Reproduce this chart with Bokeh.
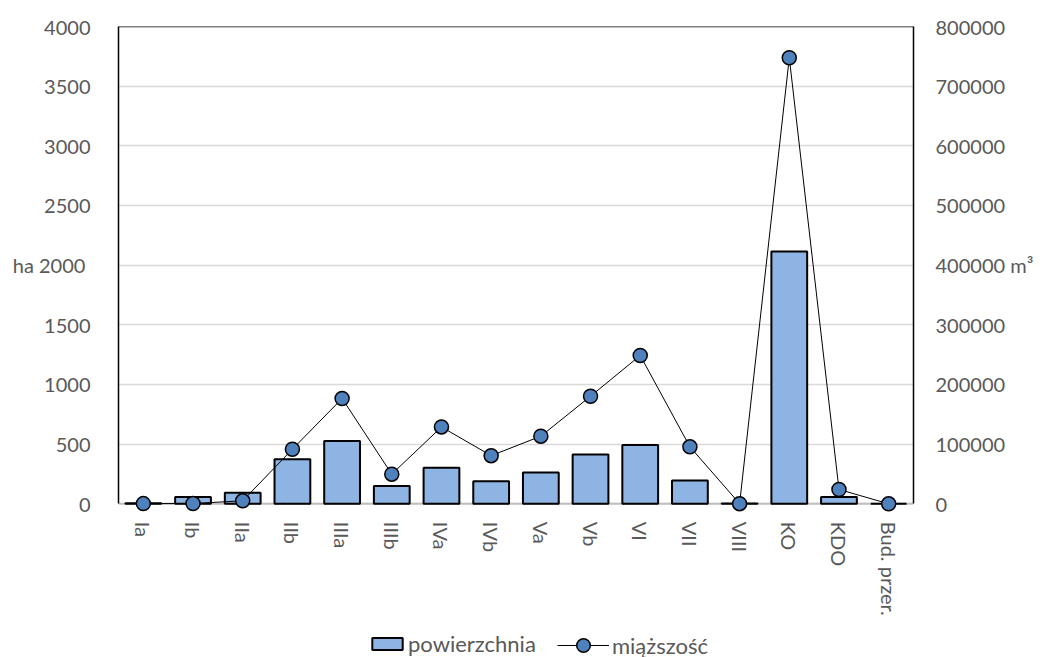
from math import pi

from bokeh.core.properties import value
from bokeh.embed import file_html
from bokeh.models import (BasicTickFormatter, FixedTicker, Legend, LegendItem,
                          LinearAxis, Range1d, Span)
from bokeh.plotting import figure
from bokeh.resources import INLINE

# Site classes and their totals
categories = ["Ia", "Ib", "IIa", "IIb", "IIIa", "IIIb", "IVa", "IVb",
              "Va", "Vb", "VI", "VII", "VIII", "KO", "KDO", "Bud. przer."]
area_ha = [5, 58, 93, 374, 526, 150, 302, 190,
           263, 414, 492, 195, 3, 2115, 56, 0]
volume_m3 = [300, 500, 5000, 91500, 176500, 49700, 128800, 80700,
             113300, 180300, 248600, 95500, 200, 747600, 24000, 0]

ha_ticks = [0, 500, 1000, 1500, 2000, 2500, 3000, 3500, 4000]
m3_ticks = [0, 100000, 200000, 300000, 400000, 500000, 600000, 700000, 800000]

FONT = "Lato"
GREY = "#595959"
SIZE = "20px"
LEGEND_SIZE = "22px"

W, H = 1045, 657
TOP = 26            # frame top (value 4000)
ZERO_PX = 503.3     # screen row of the zero line
ha_hi = 4000
# the frame runs to the bottom of the canvas; the category labels and the
# legend sit in the part below zero
ha_lo = -ha_hi * (H - ZERO_PX) / (ZERO_PX - TOP)
m3_hi = 800000
m3_lo = ha_lo * m3_hi / ha_hi

p = figure(width=W, height=H, x_range=categories,
           y_range=Range1d(ha_lo, ha_hi),
           output_backend="svg", toolbar_location=None,
           min_border_left=118, min_border_right=132,
           min_border_top=TOP, min_border_bottom=0)
p.extra_y_ranges = {"m3": Range1d(m3_lo, m3_hi)}
p.outline_line_color = None
p.background_fill_color = "white"
p.border_fill_color = "white"
p.xaxis.visible = False

# left axis (ha)
ly = p.yaxis[0]
ly.ticker = FixedTicker(ticks=ha_ticks)
ly.bounds = (0, ha_hi)
ly.formatter = BasicTickFormatter(use_scientific=False)
ly.major_label_overrides = {2000: "ha  2000"}
ly.axis_line_color = "black"
ly.axis_line_width = 1.5
ly.major_tick_line_color = None
ly.minor_tick_line_color = None
ly.major_label_standoff = 22
ly.major_label_text_font = FONT
ly.major_label_text_font_size = SIZE
ly.major_label_text_color = GREY

# right axis (m3)
ry = LinearAxis(y_range_name="m3", ticker=FixedTicker(ticks=m3_ticks),
                formatter=BasicTickFormatter(use_scientific=False),
                bounds=(0, m3_hi))
ry.major_label_overrides = {400000: "400000 m³"}
ry.axis_line_color = "black"
ry.axis_line_width = 1.5
ry.major_tick_line_color = None
ry.minor_tick_line_color = None
ry.major_label_standoff = 16
ry.major_label_text_font = FONT
ry.major_label_text_font_size = SIZE
ry.major_label_text_color = GREY
p.add_layout(ry, "right")

p.xgrid.grid_line_color = None
p.ygrid.ticker = FixedTicker(ticks=ha_ticks)
p.ygrid.grid_line_color = "#d9d9d9"
p.ygrid.grid_line_width = 1.5

p.add_layout(Span(location=0, dimension="width", line_color="#bfbfbf",
                  line_width=2, level="underlay"))
p.add_layout(Span(location=ha_hi, dimension="width", line_color="black",
                  line_width=1.5))

bars = p.vbar(x=categories, top=area_ha, width=0.72,
              fill_color="#8db4e2", line_color="black", line_width=2)
vol_line = p.line(x=categories, y=volume_m3, y_range_name="m3",
                  line_color="black", line_width=1)
vol_pts = p.scatter(x=categories, y=volume_m3, y_range_name="m3",
                    marker="circle", size=14, fill_color="#4f81bd",
                    line_color="black", line_width=1.5)

# category labels, rotated, hanging just under the zero line
p.text(x=categories, y=[0] * len(categories), text=categories,
       angle=-pi / 2, y_offset=18, text_align="left", text_baseline="middle",
       text_font=value(FONT), text_font_size=SIZE, text_color=GREY)

legend_style = dict(orientation="horizontal", padding=0, margin=0,
                    border_line_color=None, background_fill_alpha=0,
                    label_text_font=FONT, label_text_font_size=LEGEND_SIZE,
                    label_text_color=GREY, label_height=24)

legend_area = Legend(items=[LegendItem(label="powierzchnia", renderers=[bars])],
                     location=(250, 0), glyph_width=38, glyph_height=15,
                     label_standoff=2, **legend_style)
legend_vol = Legend(items=[LegendItem(label="miąższość",
                                      renderers=[vol_line, vol_pts])],
                    location=(439, -5), glyph_width=52, glyph_height=34,
                    label_standoff=3, **legend_style)
p.add_layout(legend_area, "center")
p.add_layout(legend_vol, "center")

open("out.html", "w").write(file_html(p, INLINE))
